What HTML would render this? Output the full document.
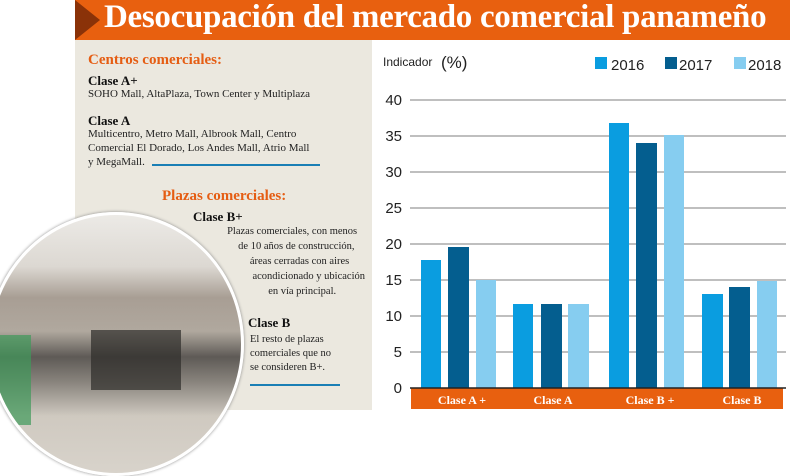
<!DOCTYPE html>
<html><head><meta charset="utf-8"><style>
body{margin:0;width:790px;height:470px;overflow:hidden;background:#fff;position:relative;font-family:"Liberation Serif",serif}
.abs{position:absolute}
.o{color:#e55d13;font-weight:bold}
.t{font-size:11px;color:#222;line-height:14px}
.b{font-weight:bold;font-size:13px;color:#111}
</style></head><body>
<div class="abs" style="left:75px;top:0;width:715px;height:40px;background:#e8600f"></div>
<div class="abs" style="left:75px;top:0;width:0;height:0;border-top:20px solid transparent;border-bottom:20px solid transparent;border-left:25px solid #8a3208"></div>
<div class="abs" style="left:104px;top:-1px;color:#fff;font-size:33px;font-weight:bold;letter-spacing:-0.3px;white-space:nowrap">Desocupación del mercado comercial panameño</div>
<div class="abs" style="left:75px;top:40px;width:297px;height:370px;background:#ebe8df"></div>
<div class="abs o" style="left:88px;top:52px;font-size:15px">Centros comerciales:</div>
<div class="abs b" style="left:88px;top:73px">Clase A+</div>
<div class="abs t" style="left:88px;top:87px">SOHO Mall, AltaPlaza, Town Center y Multiplaza</div>
<div class="abs b" style="left:88px;top:113px">Clase A</div>
<div class="abs t" style="left:88px;top:127px">Multicentro, Metro Mall, Albrook Mall, Centro<br>Comercial El Dorado, Los Andes Mall, Atrio Mall<br>y MegaMall.</div>
<div class="abs" style="left:152px;top:164px;width:168px;height:2px;background:#1a7fb5"></div>
<div class="abs o" style="left:162px;top:188px;font-size:15px">Plazas comerciales:</div>
<div class="abs b" style="left:193px;top:209px">Clase B+</div>
<div class="abs t" style="left:200px;top:224px;text-align:right;width:165px;font-size:10.5px;line-height:15px">Plazas comerciales, con menos&nbsp;&nbsp;&nbsp;<br>de 10 años de construcción,&nbsp;&nbsp;&nbsp;&nbsp;<br>áreas cerradas con aires&nbsp;&nbsp;&nbsp;&nbsp;&nbsp;&nbsp;<br>acondicionado y ubicación<br>en vía principal.&nbsp;&nbsp;&nbsp;&nbsp;&nbsp;&nbsp;&nbsp;&nbsp;&nbsp;&nbsp;&nbsp;</div>
<div class="abs b" style="left:248px;top:315px">Clase B</div>
<div class="abs t" style="left:250px;top:333px;font-size:10.5px">El resto de plazas<br>comerciales que no<br>se consideren B+.</div>
<div class="abs" style="left:250px;top:384px;width:90px;height:2px;background:#1a7fb5"></div>
<div class="abs" style="left:-12px;top:212px;width:250px;height:258px;border-radius:50%;border:3px solid #fff;box-shadow:0 0 3px #888;overflow:hidden;background:linear-gradient(180deg,#eceae6 0%,#dcd8d2 20%,#a89e94 32%,#b0a89e 45%,#5e5a56 55%,#8a857e 65%,#cfc9c0 78%,#d8d3cb 100%)">
<div style="position:absolute;left:0;top:120px;width:40px;height:90px;background:#3f9a5a;opacity:.7"></div>
<div style="position:absolute;left:100px;top:115px;width:90px;height:60px;background:#2e2c2a;opacity:.7"></div>
</div>
<svg class="abs" style="left:0;top:0" width="790" height="470">
<text x="383" y="66" font-family="Liberation Sans" font-size="12" fill="#222">Indicador</text>
<text x="441" y="68" font-family="Liberation Sans" font-size="17" fill="#222">(%)</text>
<rect x="595" y="57" width="12" height="12" fill="#0a9de0"/><text x="611" y="70" font-family="Liberation Sans" font-size="15" fill="#222">2016</text>
<rect x="665" y="57" width="12" height="12" fill="#045e8f"/><text x="679" y="70" font-family="Liberation Sans" font-size="15" fill="#222">2017</text>
<rect x="734" y="57" width="12" height="12" fill="#86cdf0"/><text x="748" y="70" font-family="Liberation Sans" font-size="15" fill="#222">2018</text>
<g stroke="#aaa" stroke-width="1.5">
<line x1="410" x2="786" y1="100" y2="100"/><line x1="410" x2="786" y1="136" y2="136"/><line x1="410" x2="786" y1="172" y2="172"/><line x1="410" x2="786" y1="208" y2="208"/><line x1="410" x2="786" y1="244" y2="244"/><line x1="410" x2="786" y1="280" y2="280"/><line x1="410" x2="786" y1="316" y2="316"/><line x1="410" x2="786" y1="352" y2="352"/>
</g>
<g font-family="Liberation Sans" font-size="15" fill="#222" text-anchor="end">
<text x="402" y="105">40</text><text x="402" y="141">35</text><text x="402" y="177">30</text><text x="402" y="213">25</text><text x="402" y="249">20</text><text x="402" y="285">15</text><text x="402" y="321">10</text><text x="402" y="357">5</text><text x="402" y="393">0</text>
</g>
<g fill="#0a9de0"><rect x="421" y="260" width="20" height="128"/><rect x="513" y="304" width="20" height="84"/><rect x="609" y="123" width="20" height="265"/><rect x="702" y="294" width="21" height="94"/></g>
<g fill="#045e8f"><rect x="448" y="247" width="21" height="141"/><rect x="541" y="304" width="21" height="84"/><rect x="636" y="143" width="21" height="245"/><rect x="729" y="287" width="21" height="101"/></g>
<g fill="#86cdf0"><rect x="476" y="280" width="20" height="108"/><rect x="568" y="304" width="21" height="84"/><rect x="664" y="135" width="20" height="253"/><rect x="757" y="281" width="20" height="107"/></g>
<rect x="411" y="388" width="372" height="21" fill="#e8600f"/>
<line x1="410" x2="786" y1="388" y2="388" stroke="#222" stroke-width="1.5"/>
<g font-family="Liberation Serif" font-weight="bold" font-size="12" fill="#fff" text-anchor="middle">
<text x="462" y="404">Clase A +</text><text x="553" y="404">Clase A</text><text x="650" y="404">Clase B +</text><text x="742" y="404">Clase B</text>
</g>
</svg>
</body></html>
